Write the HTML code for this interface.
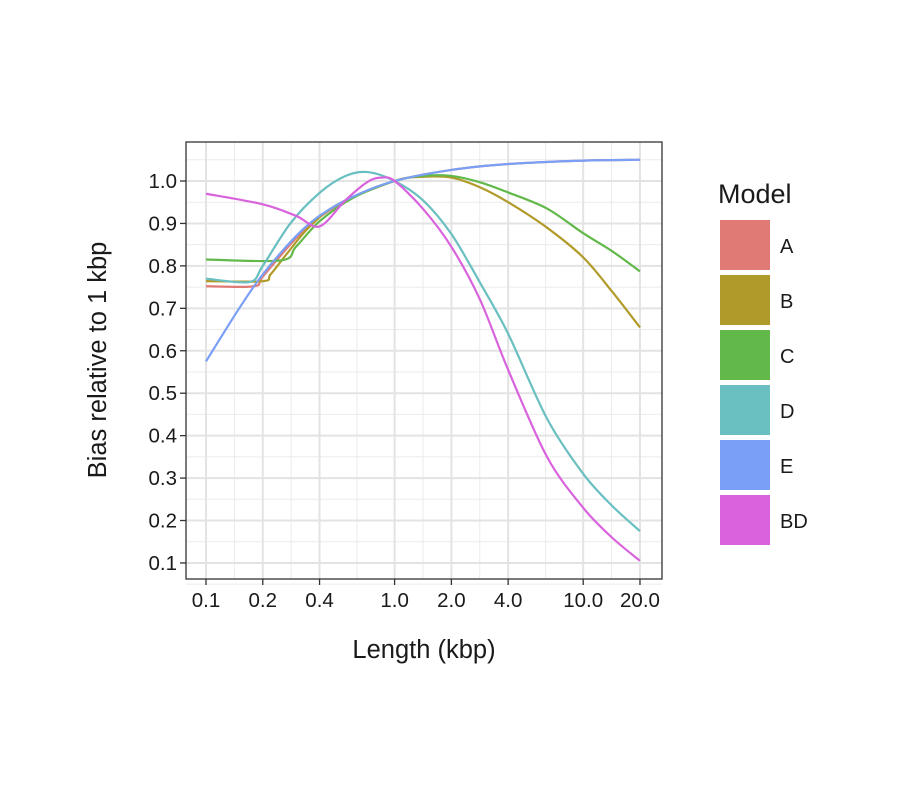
<!DOCTYPE html>
<html><head><meta charset="utf-8"><style>
html,body{margin:0;padding:0;background:#fff;width:922px;height:797px;overflow:hidden}
text{font-family:"Liberation Sans",Arial,sans-serif;fill:#1a1a1a}
</style></head><body>
<svg id="s" width="922" height="797" xmlns="http://www.w3.org/2000/svg">
<rect x="186" y="142" width="476" height="437" fill="#fff"/>
<g id="grid"></g>
<g id="curves" fill="none" stroke-width="2.2" stroke-linejoin="round"></g>
<rect x="186" y="142" width="476" height="437" fill="none" stroke="#333" stroke-width="1.3"/>
<g id="ticks" stroke="#333" stroke-width="1.3"></g>
<g id="labels" font-size="20.5"></g>
<text x="424" y="658" font-size="25.5" text-anchor="middle">Length (kbp)</text>
<text transform="translate(106,360) rotate(-90)" font-size="25.5" text-anchor="middle">Bias relative to 1 kbp</text>
<text x="718" y="203" font-size="27">Model</text>
<g id="legend"></g>
</svg>
<script>
const NS="http://www.w3.org/2000/svg";
function el(p,t,a){const e=document.createElementNS(NS,t);for(const k in a)e.setAttribute(k,a[k]);document.getElementById(p).appendChild(e);return e;}
const X=L=>206+188.6*(Math.log10(L)+1), Y=v=>181+(1-v)*424.4;
const xb=[0.1,0.2,0.4,1,2,4,10,20];
const xp=xb.map(X);
for(let i=0;i<xp.length-1;i++){const m=(xp[i]+xp[i+1])/2;el("grid","line",{x1:m,x2:m,y1:142,y2:579,stroke:"#ebebeb","stroke-width":1});}
for(let v=0.05;v<=1.06;v+=0.1){const y=Y(v);el("grid","line",{x1:186,x2:662,y1:y,y2:y,stroke:"#ebebeb","stroke-width":1});}
xp.forEach(x=>el("grid","line",{x1:x,x2:x,y1:142,y2:579,stroke:"#e3e3e3","stroke-width":2}));
for(let i=1;i<=10;i++){const y=Y(i/10);el("grid","line",{x1:186,x2:662,y1:y,y2:y,stroke:"#e3e3e3","stroke-width":2});
 el("ticks","line",{x1:180,x2:186,y1:y,y2:y});
 const t=el("labels","text",{x:177,y:y+7,"text-anchor":"end"});t.textContent=(i/10).toFixed(1);}
xb.forEach((b,i)=>{const x=xp[i];el("ticks","line",{x1:x,x2:x,y1:579,y2:585});
 const t=el("labels","text",{x:x,y:607,"text-anchor":"middle"});t.textContent=b.toFixed(1);});
const E=[[0.1,0.575],[0.15,0.7],[0.2,0.78],[0.3,0.87],[0.4,0.918],[0.6,0.963],[1,1.0],[2,1.026],[4,1.04],[10,1.048],[20,1.05]];
const S={
A:[[0.1,0.752],[0.18,0.752],[0.2,0.775],[0.3,0.865],[0.4,0.915],[0.6,0.962],[1,1.0],[2,1.026],[4,1.04],[10,1.048],[20,1.05]],
B:[[0.1,0.764],[0.2,0.764],[0.22,0.78],[0.27,0.83],[0.35,0.89],[0.5,0.945],[1,1.0],[1.41,1.01],[2,1.008],[2.84,0.985],[4,0.95],[6.43,0.89],[10,0.82],[14.2,0.74],[20,0.655]],
C:[[0.1,0.815],[0.25,0.813],[0.3,0.845],[0.4,0.905],[0.6,0.96],[1,1.0],[1.41,1.012],[2,1.012],[2.84,0.997],[4,0.973],[6.43,0.935],[10,0.877],[14.2,0.835],[20,0.787]],
D:[[0.1,0.77],[0.17,0.762],[0.2,0.8],[0.28,0.9],[0.4,0.972],[0.55,1.012],[0.72,1.021],[1,1.0],[1.41,0.955],[2,0.875],[2.84,0.76],[4,0.64],[6.43,0.44],[10,0.31],[14.2,0.235],[20,0.175]],
E:E,
BD:[[0.1,0.97],[0.2,0.945],[0.3,0.918],[0.4,0.893],[0.55,0.955],[0.72,0.998],[0.85,1.008],[1,1.0],[1.41,0.935],[2,0.845],[2.84,0.72],[4,0.555],[6.43,0.35],[10,0.23],[14.2,0.16],[20,0.105]]};
const C={A:"#e07a74",B:"#b09b2a",C:"#62b94a",D:"#6abfc1",E:"#7a9ff7",BD:"#d963dd"};
function path(pts){const P=pts.map(p=>[X(p[0]),Y(p[1])]);let d="M"+P[0][0]+","+P[0][1];
 for(let i=0;i<P.length-1;i++){const p0=P[Math.max(0,i-1)],p1=P[i],p2=P[i+1],p3=P[Math.min(P.length-1,i+2)];
  const t=0.16;d+=" C"+(p1[0]+(p2[0]-p0[0])*t)+","+(p1[1]+(p2[1]-p0[1])*t)+" "+(p2[0]-(p3[0]-p1[0])*t)+","+(p2[1]-(p3[1]-p1[1])*t)+" "+p2[0]+","+p2[1];}
 return d;}
["A","B","C","D","E","BD"].forEach((k,i)=>{el("curves","path",{d:path(S[k]),stroke:C[k]});
 el("legend","rect",{x:720,y:220+55*i,width:50,height:50,fill:C[k]});
 const t=el("legend","text",{x:780,y:253+55*i,"font-size":20});t.textContent=k;});
</script>
</body></html>
